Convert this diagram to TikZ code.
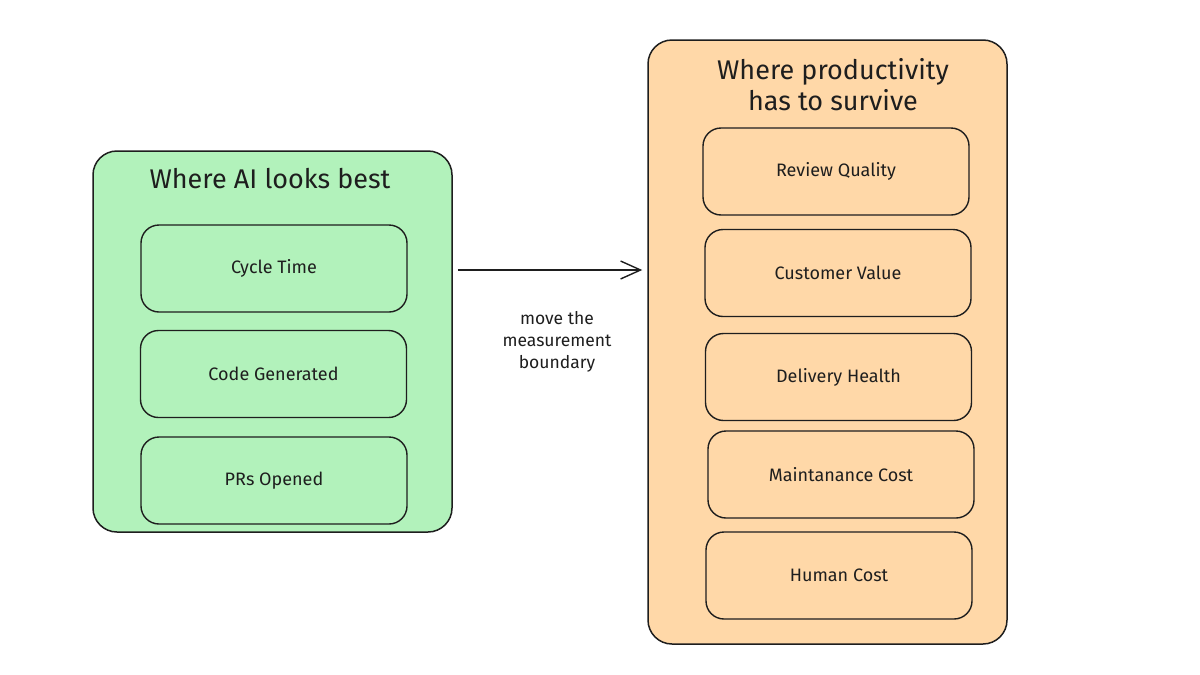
\documentclass[tikz,border=0pt]{standalone}
\usepackage{fontspec}
\setmainfont{Fira Sans}
\usetikzlibrary{arrows.meta}
\definecolor{greenfill}{HTML}{B2F2BB}
\definecolor{orangefill}{HTML}{FFD8A8}
\definecolor{ink}{HTML}{1E1E1E}
\tikzset{
  container/.style={draw=ink, line width=1.5pt, rounded corners=24pt, inner sep=0pt},
  item/.style={draw=ink, line width=1.4pt, rounded corners=18pt, minimum width=266pt, minimum height=87pt, inner sep=0pt, font=\fontsize{18}{21}\selectfont, text=ink},
  title/.style={font=\fontsize{27}{31}\selectfont, text=ink, align=center},
  lbl/.style={font=\fontsize{17.5}{22}\selectfont, text=ink, align=center},
  link/.style={draw=ink, line width=1.4pt, -{Straight Barb[length=20pt,width=18pt,line width=1.4pt]}}
}
\begin{document}
\begin{tikzpicture}[x=1pt,y=-1pt]
\useasboundingbox[fill=white] (0,0) rectangle (1200,675);
% left container
\node[container, fill=greenfill, minimum width=359pt, minimum height=381pt] (L) at (272.5,341.5) {};
\node[title] (Lt) at (270,179) {Where AI looks best};
\node[item, fill=greenfill] (c1) at (274,268.5) {Cycle Time};
\node[item, fill=greenfill] (c2) at (273.5,374) {Code Generated};
\node[item, fill=greenfill] (c3) at (274,480.5) {PRs Opened};
% right container
\node[container, fill=orangefill, minimum width=359pt, minimum height=604pt] (R) at (827.5,342) {};
\node[title] (Rt) at (833,85) {Where productivity\\has to survive};
\node[item, fill=orangefill] (r1) at (836,171.5) {Review Quality};
\node[item, fill=orangefill] (r2) at (838,273) {Customer Value};
\node[item, fill=orangefill] (r3) at (838.5,377) {Delivery Health};
\node[item, fill=orangefill] (r4) at (841,474.5) {Maintanance Cost};
\node[item, fill=orangefill] (r5) at (839,575.5) {Human Cost};
% arrow
\coordinate (a1) at ([xshift=5pt]L.east |- 0,270);
\coordinate (a2) at ([xshift=-5pt]R.west |- 0,270);
\draw[link] (a1) -- (a2);
\node[lbl] (ml) at (557,342) {move the\\measurement\\boundary};
\end{tikzpicture}
\end{document}
